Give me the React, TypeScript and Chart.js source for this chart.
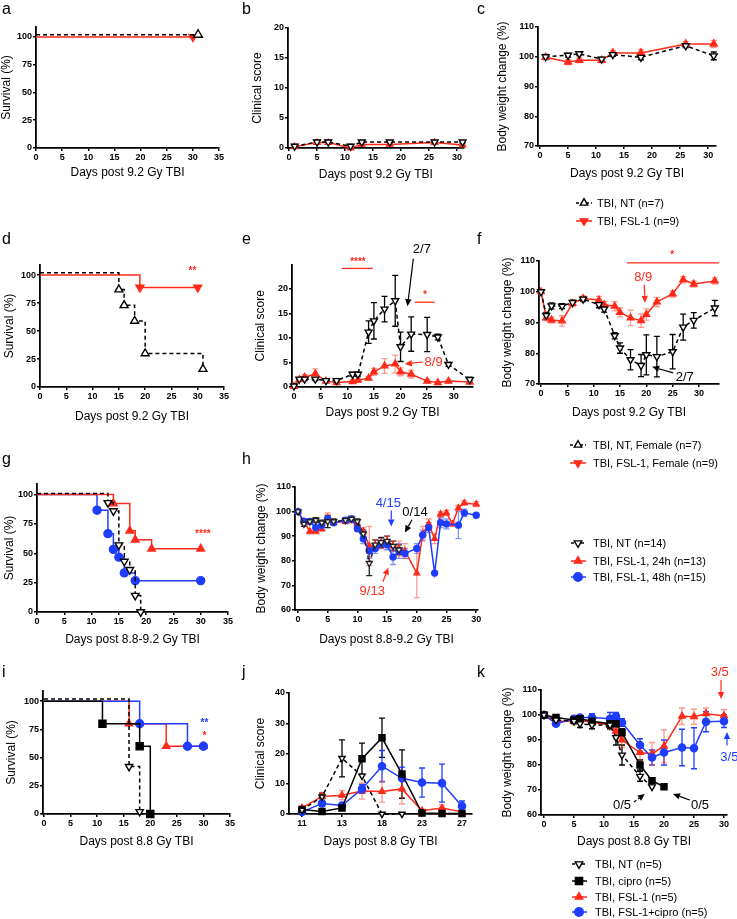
import React, { useEffect, useRef } from 'react';
import { Chart, registerables } from 'chart.js';
Chart.register(...registerables);

const PAGE_W = 737;
const PAGE_H = 919;
const FONT = "'Liberation Sans', Arial, Helvetica, sans-serif";
const BLACK = '#000000';
const RED = '#ff2a1a';
const RED_ERR = 'rgba(255,70,50,0.55)';
const BLUE = '#1f3dff';
const BLUE_ERR = 'rgba(40,80,255,0.6)';

// ---------------- DATA ----------------
// panel a (survival, 9.2 Gy)
const aNTDays = [0, 31];
const aNTSurv = [102, 102];
const aFSLDays = [0, 30];
const aFSLSurv = [100, 100];

// panel b (clinical score)
const bDays = [1, 5, 7, 11, 13, 18, 26, 31];
const bNT = [0.3, 1.0, 1.0, 0.3, 1.0, 1.0, 1.0, 1.0];
const bNTsem = [0.3, 0.3, 0.3, 0.3, 0.2, 0.2, 0.2, 0.2];
const bFSL = [0.2, 0.9, 0.9, 0.0, 0.6, 0.6, 0.9, 0.5];
const bFSLsem = [0.2, 0.3, 0.3, 0.2, 0.2, 0.2, 0.2, 0.2];

// panel c (body weight)
const cDays = [1, 5, 7, 11, 13, 18, 26, 31];
const cNT = [100, 100.5, 101, 99.2, 100.7, 99.8, 103.7, 100.3];
const cNTsem = [0.8, 0.6, 0.6, 0.6, 0.6, 0.8, 0.6, 1.3];
const cFSL = [99.8, 98.2, 98.8, 98.8, 101.3, 101.3, 104.3, 104.3];
const cFSLsem = [0.8, 0.8, 0.8, 0.8, 0.8, 1.2, 0.8, 1.2];

// panel d (survival, females)
const dNTDays = [0, 15, 16, 18, 20, 31];
const dNTSurv = [102, 87, 73, 59, 30, 16];
const dFSLDays = [0, 19, 30];
const dFSLSurv = [100, 89, 89];

// panel e (clinical score, females)
const efDays = [0, 1, 2, 4, 6, 8, 11, 12, 14, 15, 17, 19, 20, 22, 25, 27, 29, 33];
const eNT = [0.2, 1.6, 1.6, 1.6, 1.3, 1.3, 2.6, 2.6, 11.2, 13.5, 15.9, 17.6, 8.2, 10.8, 10.7, 10.2, 4.6, 1.5];
const eNTsem = [0.2, 0.3, 0.3, 0.3, 0.3, 0.3, 0.4, 0.4, 2.3, 3.7, 2.6, 5.2, 3.0, 3.5, 3.5, 0.6, 0.4, 0.5];
const eFSL = [0.1, 1.5, 2.0, 2.7, 1.2, 0.9, 1.1, 1.4, 1.8, 3.1, 4.3, 4.7, 3.1, 2.6, 1.2, 0.9, 1.2, 1.0];
const eFSLsem = [0.1, 0.3, 0.5, 1.0, 0.3, 0.3, 0.3, 0.4, 0.3, 0.7, 1.5, 1.8, 0.8, 0.8, 0.3, 0.2, 0.2, 0.2];

// panel f (body weight, females)
const fNT = [100, 92.3, 95.4, 95.3, 96.5, 97.6, 95.8, 94.4, 85.7, 81.7, 77.9, 76.0, 79.5, 78.9, 80.5, 88.5, 90.7, 94.7];
const fNTsem = [0.5, 1, 1, 0.8, 0.8, 0.8, 1, 1, 1, 1.7, 3.3, 3.6, 6.5, 6.6, 5.6, 4.2, 2.5, 2.5];
const fFSL = [100, 91.5, 90.8, 90.5, 96.2, 97.8, 97.3, 95.8, 95.3, 93.3, 91.5, 90.6, 92.6, 96.7, 99.3, 103.9, 102.5, 103.5];
const fFSLsem = [0.5, 1, 1, 1.7, 1, 0.8, 1.2, 1, 1.5, 1.5, 2.5, 2.2, 1.8, 1.5, 1, 1, 1, 1];

// panel g (survival, 8.8-9.2 Gy)
const gNTDays = [0, 13, 14, 15, 16, 17, 18, 19];
const gNTSurv = [101, 93, 86, 57, 43, 36, 14, 0];
const g24Days = [0, 14, 17, 18, 21, 30];
const g24Surv = [100, 92.3, 69.2, 61.5, 53.8, 53.8];
const g48Days = [0, 11, 13, 14, 15, 16, 18, 30];
const g48Surv = [100, 86.7, 66.7, 53.3, 46.7, 33.3, 26.7, 26.7];

// panel h (body weight, 8.8-9.2 Gy)
const hNTDays = [0, 1, 2, 3, 4, 5, 6, 8, 9, 10, 11, 12, 13, 14, 15, 16, 17];
const hNT = [100, 95, 96, 96.5, 95.5, 96, 96, 96.5, 97, 96, 91, 79, 86.5, 87.5, 88, 86, 84.5];
const hNTsem = [0, 1, 1, 1, 1, 2.5, 1, 1, 1, 1, 1.5, 5, 2, 2, 2, 2, 2];
const h24Days = [0, 1, 2, 3, 4, 5, 6, 8, 9, 10, 11, 12, 13, 14, 15, 16, 17, 18, 20, 21, 22, 23, 24, 25, 26, 27, 28, 30];
const h24 = [100, 96, 92, 92, 93, 97.5, 95.5, 96, 96.5, 95, 92, 86, 86.5, 87, 88, 86, 85, 84, 75, 91, 95, 89, 99, 99.5, 95, 101.5, 103.5, 103];
const h24sem = [0, 1, 1, 1, 1, 2, 1, 1, 1, 1, 1.5, 8, 2, 2, 2, 2, 3, 3, 10, 3, 2, 2, 1, 1, 1, 1, 1, 1];
const h48Days = [0, 1, 2, 3, 4, 5, 6, 8, 9, 10, 11, 12, 13, 14, 15, 16, 17, 18, 20, 21, 22, 23, 24, 25, 27, 28, 30];
const h48 = [100, 96, 96, 93.5, 94.5, 97, 95.5, 96.5, 97, 93, 89, 84, 85, 87, 86.5, 81.5, 84, 83, 85, 90.5, 93.5, 75, 95.5, 95, 94.5, 99.5, 98.5];
const h48sem = [0, 1, 1, 1, 1, 1, 1, 1, 1, 1, 2, 3, 2, 2, 2, 3, 3, 2, 2, 2, 2, 0, 2, 2, 5.5, 1.5, 0.5];

// panel i (survival, 8.8 Gy, cipro)
const iNTDays = [0, 16, 18];
const iNTSurv = [101.8, 42, 2];
const iCipDays = [0, 11, 18, 20];
const iCipSurv = [100, 80, 60, 0];
const iFSLDays = [0, 16, 23, 30];
const iFSLSurv = [100, 80, 60, 60];
const iBothDays = [0, 18, 27, 30];
const iBothSurv = [100, 80, 60, 60];

// panel j (clinical score, 8.8 Gy)
const jDays = ['11', '12', '13', '16', '18', '21', '23', '25', '27'];
const jNT = [1.3, 5.7, 18.4, 12.6, 0, 0];
const jNTsem = [0.3, 1.2, 6.1, 0, 0, 0];
const jCip = [1.5, 0.8, 2.0, 18.3, 25.2, 13.2, 0.3, 0.2, 0.2];
const jCipsem = [0.3, 0.2, 0.5, 5.1, 6.5, 8.0, 0, 0, 0];
const jFSL = [2.0, 5.8, 6.2, 7.6, 7.4, 8.3, 1.1, 2.0, 0.7];
const jFSLsem = [0.5, 1.3, 1.5, 2.7, 3.5, 5.0, 0.5, 1.0, 0.3];
const jBoth = [0.7, 3.5, 2.8, 8.3, 15.8, 11.8, 10.4, 10.2, 2.6];
const jBothsem = [0.3, 0.8, 0.8, 1.5, 5.2, 3.7, 4.8, 6.3, 1.7];

// panel k (body weight, 8.8 Gy)
const kNTDays = [0, 2, 5, 6, 8, 11, 12, 13, 16, 18];
const kNT = [100, 98, 97.5, 96.5, 96, 96, 91, 84, 75.5, 71.3];
const kNTsem = [0.5, 1, 1, 1.5, 1.5, 1.5, 3, 4, 2, 0];
const kCipDays = [0, 2, 5, 6, 8, 11, 12, 13, 16, 18, 20];
const kCip = [100, 99, 98, 98.5, 97.5, 96.5, 96.5, 93, 80, 73.7, 71.3];
const kCipsem = [0.5, 1, 1, 1, 1, 1.5, 1, 1.5, 2, 0.5, 0];
const kFSLDays = [0, 2, 5, 6, 8, 11, 12, 13, 16, 18, 20, 23, 25, 27, 30];
const kFSL = [100, 97.5, 97.5, 98, 97, 96, 93.5, 90, 85, 84.5, 87.5, 99.5, 99.3, 100.5, 99.7];
const kFSLsem = [0.5, 1, 1, 1, 1, 2, 3, 3, 3.5, 4.5, 6.5, 3.3, 3, 2.3, 2.5];
const kBothDays = [0, 2, 5, 6, 8, 11, 12, 13, 16, 18, 20, 23, 25, 27, 30];
const kBoth = [100, 96.5, 98.5, 99, 99, 98.5, 99.5, 97, 88, 83, 85, 87, 86.7, 97.3, 97.5];
const kBothsem = [0.5, 1, 1, 1, 1.5, 2.5, 1.5, 1.5, 2.5, 3, 5, 7.3, 8.2, 4, 2.5];

// tick values
const ticksDays35 = [0, 5, 10, 15, 20, 25, 30, 35];
const ticksDays30 = [0, 5, 10, 15, 20, 25, 30];
const ticksSurv = [0, 25, 50, 75, 100];
const ticksScore20 = [0, 5, 10, 15, 20];
const ticksScore40 = [0, 10, 20, 30, 40];
const ticksWeight70 = [70, 80, 90, 100, 110];
const ticksWeight60 = [60, 70, 80, 90, 100, 110];
const ticksJIdx = [0, 2, 4, 6, 8];

// ---------------- TYPES ----------------
type Marker = 'up' | 'down' | 'circle' | 'square';
interface Series {
  xs: number[];
  ys: number[];
  sem?: number[];
  color: string;
  errColor?: string;
  dashed?: boolean;
  marker: Marker;
  open?: boolean;
  r: number;
  stepped?: boolean;
  hideFirst?: boolean;
}
type Ann =
  | { kind: 'text'; x: number; y: number; text: string; color: string; size?: number; bold?: boolean }
  | { kind: 'arrow'; x1: number; y1: number; x2: number; y2: number; color: string; dashed?: boolean }
  | { kind: 'hline'; x1: number; x2: number; y: number; color: string };
interface LegendItem { label: string; marker: Marker; color: string; open?: boolean; dashed?: boolean; y: number }
interface Spec {
  L: number; T: number; R: number; B: number;
  xMin: number; xMax: number; yMin: number; yMax: number;
  xTicks: number[]; yTicks: number[];
  xTitle: string; yTitle: string; yTitleX: number; xTitleY: number;
  xLabel?: (v: number) => string;
  series: Series[];
  ann?: Ann[];
  letter: { t: string; x: number; y: number };
  legend?: { items: LegendItem[]; lineX1: number; lineX2: number; markerX: number; textX: number };
}

const idx = (arr: any[]) => arr.map((_, i) => i);

// ---------------- DRAW HELPERS ----------------
function drawMarker(ctx: CanvasRenderingContext2D, m: Marker, x: number, y: number, r: number, fill: string, stroke: string) {
  ctx.save();
  ctx.beginPath();
  if (m === 'circle') ctx.arc(x, y, r, 0, Math.PI * 2);
  else if (m === 'square') ctx.rect(x - r * 0.72, y - r * 0.72, r * 1.44, r * 1.44);
  else {
    const s = m === 'up' ? 1 : -1;
    ctx.moveTo(x, y - s * r);
    ctx.lineTo(x + r * 0.866, y + s * r * 0.5);
    ctx.lineTo(x - r * 0.866, y + s * r * 0.5);
    ctx.closePath();
  }
  ctx.fillStyle = fill;
  ctx.fill();
  ctx.lineWidth = 1.4;
  ctx.strokeStyle = stroke;
  ctx.stroke();
  ctx.restore();
}

function drawArrow(ctx: CanvasRenderingContext2D, x1: number, y1: number, x2: number, y2: number, color: string, dashed?: boolean) {
  const ang = Math.atan2(y2 - y1, x2 - x1);
  const hl = 7, hw = 3.2;
  const bx = x2 - Math.cos(ang) * hl, by = y2 - Math.sin(ang) * hl;
  ctx.save();
  ctx.strokeStyle = color;
  ctx.fillStyle = color;
  ctx.lineWidth = 1.2;
  if (dashed) ctx.setLineDash([3, 2]);
  ctx.beginPath();
  ctx.moveTo(x1, y1);
  ctx.lineTo(bx, by);
  ctx.stroke();
  ctx.setLineDash([]);
  ctx.beginPath();
  ctx.moveTo(x2, y2);
  ctx.lineTo(bx - Math.sin(ang) * hw, by + Math.cos(ang) * hw);
  ctx.lineTo(bx + Math.sin(ang) * hw, by - Math.cos(ang) * hw);
  ctx.closePath();
  ctx.fill();
  ctx.restore();
}

const errorBarPlugin = {
  id: 'errbars',
  beforeDatasetsDraw(chart: any) {
    const ctx = chart.ctx;
    const xs = chart.scales.x, ys = chart.scales.y;
    chart.data.datasets.forEach((ds: any) => {
      if (!ds.sem) return;
      ctx.save();
      ctx.strokeStyle = ds.errColor;
      ctx.lineWidth = 1.3;
      ds.data.forEach((p: any, i: number) => {
        const e = ds.sem[i];
        if (!e) return;
        const px = xs.getPixelForValue(p.x);
        const top = ys.getPixelForValue(p.y + e);
        const bot = ys.getPixelForValue(p.y - e);
        ctx.beginPath();
        ctx.moveTo(px, top); ctx.lineTo(px, bot);
        ctx.moveTo(px - 3, top); ctx.lineTo(px + 3, top);
        ctx.moveTo(px - 3, bot); ctx.lineTo(px + 3, bot);
        ctx.stroke();
      });
      ctx.restore();
    });
  },
};

function extrasPlugin(spec: Spec) {
  return {
    id: 'extras',
    afterDraw(chart: any) {
      const ctx: CanvasRenderingContext2D = chart.ctx;
      const xs = chart.scales.x, ys = chart.scales.y;
      const X = (v: number) => xs.getPixelForValue(v);
      const Y = (v: number) => ys.getPixelForValue(v);
      (spec.ann || []).forEach((a) => {
        if (a.kind === 'text') {
          ctx.save();
          ctx.fillStyle = a.color;
          ctx.font = `${a.bold ? 'bold ' : ''}${a.size || 13}px ${FONT}`;
          ctx.textAlign = 'center';
          ctx.textBaseline = 'middle';
          ctx.fillText(a.text, X(a.x), Y(a.y));
          ctx.restore();
        } else if (a.kind === 'arrow') {
          drawArrow(ctx, X(a.x1), Y(a.y1), X(a.x2), Y(a.y2), a.color, a.dashed);
        } else {
          ctx.save();
          ctx.strokeStyle = a.color;
          ctx.lineWidth = 1.3;
          ctx.beginPath();
          ctx.moveTo(X(a.x1), Y(a.y));
          ctx.lineTo(X(a.x2), Y(a.y));
          ctx.stroke();
          ctx.restore();
        }
      });
      // panel letter
      ctx.save();
      ctx.fillStyle = BLACK;
      ctx.font = `16px ${FONT}`;
      ctx.textAlign = 'left';
      ctx.textBaseline = 'alphabetic';
      ctx.fillText(spec.letter.t, spec.letter.x, spec.letter.y);
      ctx.restore();
      // legend
      if (spec.legend) {
        const lg = spec.legend;
        lg.items.forEach((it) => {
          ctx.save();
          ctx.strokeStyle = it.color;
          ctx.lineWidth = 1.5;
          if (it.dashed) ctx.setLineDash([3, 2]);
          ctx.beginPath();
          ctx.moveTo(lg.lineX1, it.y);
          ctx.lineTo(lg.lineX2, it.y);
          ctx.stroke();
          ctx.restore();
          drawMarker(ctx, it.marker, lg.markerX, it.y, it.marker === 'square' ? 5 : 4.3, it.open ? '#fff' : it.color, it.color);
          ctx.save();
          ctx.fillStyle = BLACK;
          ctx.font = `11px ${FONT}`;
          ctx.textAlign = 'left';
          ctx.textBaseline = 'middle';
          ctx.fillText(it.label, lg.textX, it.y + 0.5);
          ctx.restore();
        });
      }
    },
  };
}

function toDataset(s: Series) {
  return {
    data: s.xs.map((x, i) => ({ x, y: s.ys[i] })),
    borderColor: s.color,
    borderWidth: 1.5,
    borderDash: s.dashed ? [4, 3] : [],
    pointStyle: s.marker === 'circle' ? 'circle' : s.marker === 'square' ? 'rect' : 'triangle',
    rotation: s.marker === 'down' ? 180 : 0,
    pointRadius: (c: any) => (s.hideFirst && c.dataIndex === 0 ? 0 : s.r),
    pointBackgroundColor: s.open ? '#ffffff' : s.color,
    pointBorderColor: s.color,
    pointBorderWidth: 1.4,
    stepped: s.stepped ? 'before' : false,
    tension: 0,
    fill: false,
    clip: false,
    sem: s.sem,
    errColor: s.errColor || s.color,
  };
}

function makeChart(canvas: HTMLCanvasElement, spec: Spec) {
  const lh = 12 * 1.2;
  const padLeft = spec.yTitleX - lh / 2;
  const yW = spec.L - padLeft;
  const xH = spec.xTitleY - spec.B + lh / 2;
  const padBottom = PAGE_H - spec.B - xH;
  const tickFont = { family: FONT, size: 9, weight: 'bold' as const };
  const titleFont = { family: FONT, size: 12 };
  const grid = { display: true, drawOnChartArea: false, drawTicks: true, tickLength: 3, color: BLACK, lineWidth: 1.5 };
  const border = { display: true, color: BLACK, width: 1.8 };
  const cfg: any = {
    type: 'line',
    data: { datasets: spec.series.map(toDataset) },
    options: {
      animation: false,
      responsive: false,
      maintainAspectRatio: false,
      devicePixelRatio: 1,
      events: [],
      layout: { padding: { left: padLeft, top: spec.T, right: PAGE_W - spec.R, bottom: padBottom } },
      plugins: { legend: { display: false }, tooltip: { enabled: false } },
      scales: {
        x: {
          type: 'linear',
          min: spec.xMin,
          max: spec.xMax,
          afterBuildTicks: (s: any) => { s.ticks = spec.xTicks.map((v) => ({ value: v })); },
          afterFit: (s: any) => { s.height = xH; },
          grid,
          border,
          ticks: {
            font: tickFont, color: BLACK, padding: 1, maxRotation: 0, autoSkip: false,
            callback: (v: any) => (spec.xLabel ? spec.xLabel(Number(v)) : String(v)),
          },
          title: { display: true, text: spec.xTitle, font: titleFont, color: BLACK, padding: 0 },
        },
        y: {
          type: 'linear',
          min: spec.yMin,
          max: spec.yMax,
          afterBuildTicks: (s: any) => { s.ticks = spec.yTicks.map((v) => ({ value: v })); },
          afterFit: (s: any) => { s.width = yW; },
          grid,
          border,
          ticks: { font: tickFont, color: BLACK, padding: 1, autoSkip: false, callback: (v: any) => String(v) },
          title: { display: true, text: spec.yTitle, font: titleFont, color: BLACK, padding: 0 },
        },
      },
    },
    plugins: [errorBarPlugin, extrasPlugin(spec)],
  };
  return new Chart(canvas, cfg);
}

// ---------------- PANEL SPECS ----------------
const T92 = 'Days post 9.2 Gy TBI';
const T8892 = 'Days post 8.8-9.2 Gy TBI';
const T88 = 'Days post 8.8 Gy TBI';

const specs: Spec[] = [
  {
    L: 36, T: 27, R: 219, B: 148, xMin: 0, xMax: 35, yMin: 0, yMax: 109,
    xTicks: ticksDays35, yTicks: ticksSurv, xTitle: T92, yTitle: 'Survival (%)', yTitleX: 7, xTitleY: 173,
    letter: { t: 'a', x: 2, y: 14 },
    series: [
      { xs: aNTDays, ys: aNTSurv, color: BLACK, dashed: true, marker: 'up', open: true, r: 5, stepped: true, hideFirst: true },
      { xs: aFSLDays, ys: aFSLSurv, color: RED, marker: 'down', r: 4.5, stepped: true, hideFirst: true },
    ],
  },
  {
    L: 287.9, T: 28, R: 463.7, B: 148, xMin: -0.2, xMax: 31.2, yMin: 0, yMax: 20,
    xTicks: ticksDays30, yTicks: ticksScore20, xTitle: T92, yTitle: 'Clinical score', yTitleX: 258, xTitleY: 175,
    letter: { t: 'b', x: 242, y: 14 },
    series: [
      { xs: bDays, ys: bNT, sem: bNTsem, color: BLACK, dashed: true, marker: 'down', open: true, r: 4 },
      { xs: bDays, ys: bFSL, sem: bFSLsem, color: RED, errColor: RED_ERR, marker: 'up', r: 3.5 },
    ],
  },
  {
    L: 538, T: 27, R: 716, B: 146, xMin: -0.36, xMax: 31.4, yMin: 70, yMax: 110,
    xTicks: ticksDays30, yTicks: ticksWeight70, xTitle: T92, yTitle: 'Body weight change (%)', yTitleX: 503, xTitleY: 174,
    letter: { t: 'c', x: 477, y: 14 },
    series: [
      { xs: cDays, ys: cNT, sem: cNTsem, color: BLACK, dashed: true, marker: 'down', open: true, r: 4 },
      { xs: cDays, ys: cFSL, sem: cFSLsem, color: RED, errColor: RED_ERR, marker: 'up', r: 4 },
    ],
    legend: {
      lineX1: 576, lineX2: 592, markerX: 584, textX: 597,
      items: [
        { label: 'TBI, NT (n=7)', marker: 'up', color: BLACK, open: true, dashed: true, y: 203 },
        { label: 'TBI, FSL-1 (n=9)', marker: 'down', color: RED, y: 221 },
      ],
    },
  },
  {
    L: 40, T: 265, R: 224, B: 387, xMin: 0, xMax: 35, yMin: 0, yMax: 109,
    xTicks: ticksDays35, yTicks: ticksSurv, xTitle: T92, yTitle: 'Survival (%)', yTitleX: 10, xTitleY: 417,
    letter: { t: 'd', x: 2, y: 244 },
    series: [
      { xs: dNTDays, ys: dNTSurv, color: BLACK, dashed: true, marker: 'up', open: true, r: 4.6, stepped: true, hideFirst: true },
      { xs: dFSLDays, ys: dFSLSurv, color: RED, marker: 'down', r: 4.6, stepped: true, hideFirst: true },
    ],
    ann: [{ kind: 'text', x: 29, y: 103, text: '**', color: RED, size: 10, bold: true }],
  },
  {
    L: 292, T: 264.5, R: 473, B: 387, xMin: -0.375, xMax: 33.6, yMin: 0, yMax: 25,
    xTicks: ticksDays30, yTicks: ticksScore20, xTitle: T92, yTitle: 'Clinical score', yTitleX: 261, xTitleY: 413,
    letter: { t: 'e', x: 242, y: 244 },
    series: [
      { xs: efDays, ys: eNT, sem: eNTsem, color: BLACK, dashed: true, marker: 'down', open: true, r: 4 },
      { xs: efDays, ys: eFSL, sem: eFSLsem, color: RED, errColor: RED_ERR, marker: 'up', r: 3.8 },
    ],
    ann: [
      { kind: 'text', x: 12, y: 25.4, text: '****', color: RED, size: 10, bold: true },
      { kind: 'hline', x1: 9, x2: 14.8, y: 24.2, color: RED },
      { kind: 'text', x: 24, y: 28, text: '2/7', color: BLACK },
      { kind: 'arrow', x1: 22.4, y1: 26.2, x2: 21.3, y2: 16.5, color: BLACK },
      { kind: 'text', x: 24.6, y: 18.8, text: '*', color: RED, size: 10, bold: true },
      { kind: 'hline', x1: 22.7, x2: 26.4, y: 17.3, color: RED },
      { kind: 'text', x: 26.2, y: 5.1, text: '8/9', color: RED },
      { kind: 'arrow', x1: 24.2, y1: 5.1, x2: 20.8, y2: 4.7, color: RED },
    ],
  },
  {
    L: 539, T: 261, R: 719, B: 384, xMin: -0.38, xMax: 33.8, yMin: 70, yMax: 110,
    xTicks: ticksDays30, yTicks: ticksWeight70, xTitle: T92, yTitle: 'Body weight change (%)', yTitleX: 508, xTitleY: 413,
    letter: { t: 'f', x: 477, y: 244 },
    series: [
      { xs: efDays, ys: fNT, sem: fNTsem, color: BLACK, dashed: true, marker: 'down', open: true, r: 4 },
      { xs: efDays, ys: fFSL, sem: fFSLsem, color: RED, errColor: RED_ERR, marker: 'up', r: 3.8 },
    ],
    ann: [
      { kind: 'text', x: 24.9, y: 112, text: '*', color: RED, size: 10, bold: true },
      { kind: 'hline', x1: 16.3, x2: 33.8, y: 109.4, color: RED },
      { kind: 'text', x: 19.4, y: 104.6, text: '8/9', color: RED },
      { kind: 'arrow', x1: 19.6, y1: 102.3, x2: 19.75, y2: 96.4, color: RED },
      { kind: 'text', x: 27.3, y: 72.3, text: '2/7', color: BLACK },
      { kind: 'arrow', x1: 25.1, y1: 73.6, x2: 21.1, y2: 75.6, color: BLACK },
    ],
    legend: {
      lineX1: 570, lineX2: 586, markerX: 578, textX: 593,
      items: [
        { label: 'TBI, NT, Female (n=7)', marker: 'up', color: BLACK, open: true, dashed: true, y: 445 },
        { label: 'TBI, FSL-1, Female (n=9)', marker: 'down', color: RED, y: 463 },
      ],
    },
  },
  {
    L: 37, T: 484, R: 228, B: 612, xMin: 0, xMax: 35, yMin: 0, yMax: 109,
    xTicks: ticksDays35, yTicks: ticksSurv, xTitle: T8892, yTitle: 'Survival (%)', yTitleX: 10, xTitleY: 640,
    letter: { t: 'g', x: 2, y: 464 },
    series: [
      { xs: gNTDays, ys: gNTSurv, color: BLACK, dashed: true, marker: 'down', open: true, r: 4.4, stepped: true, hideFirst: true },
      { xs: g24Days, ys: g24Surv, color: RED, marker: 'up', r: 4.4, stepped: true, hideFirst: true },
      { xs: g48Days, ys: g48Surv, color: BLUE, marker: 'circle', r: 4, stepped: true, hideFirst: true },
    ],
    ann: [{ kind: 'text', x: 30.4, y: 66.5, text: '****', color: RED, size: 10, bold: true }],
  },
  {
    L: 295, T: 487, R: 478, B: 610, xMin: -0.5, xMax: 30.3, yMin: 60, yMax: 110,
    xTicks: ticksDays30, yTicks: ticksWeight60, xTitle: T8892, yTitle: 'Body weight change (%)', yTitleX: 262, xTitleY: 640,
    letter: { t: 'h', x: 242, y: 464 },
    series: [
      { xs: hNTDays, ys: hNT, sem: hNTsem, color: '#222222', dashed: true, marker: 'down', open: true, r: 3.4 },
      { xs: h48Days, ys: h48, sem: h48sem, color: BLUE, errColor: BLUE_ERR, marker: 'circle', r: 3 },
      { xs: h24Days, ys: h24, sem: h24sem, color: RED, errColor: RED_ERR, marker: 'up', r: 3.3 },
    ],
    ann: [
      { kind: 'text', x: 15.2, y: 103.3, text: '4/15', color: BLUE },
      { kind: 'arrow', x1: 15.7, y1: 100.4, x2: 15.7, y2: 93.9, color: BLUE },
      { kind: 'text', x: 19.7, y: 99.6, text: '0/14', color: BLACK },
      { kind: 'arrow', x1: 19.2, y1: 96.7, x2: 18.0, y2: 91.5, color: BLACK },
      { kind: 'text', x: 12.5, y: 67.5, text: '9/13', color: RED },
      { kind: 'arrow', x1: 14.3, y1: 71.5, x2: 15.2, y2: 77.2, color: RED },
    ],
    legend: {
      lineX1: 571, lineX2: 586, markerX: 578, textX: 593,
      items: [
        { label: 'TBI, NT (n=14)', marker: 'down', color: BLACK, open: true, dashed: true, y: 543 },
        { label: 'TBI, FSL-1, 24h (n=13)', marker: 'up', color: RED, y: 561 },
        { label: 'TBI, FSL-1, 48h (n=15)', marker: 'circle', color: BLUE, y: 577 },
      ],
    },
  },
  {
    L: 43, T: 691, R: 230, B: 814, xMin: -0.19, xMax: 35, yMin: 0, yMax: 109,
    xTicks: ticksDays35, yTicks: ticksSurv, xTitle: T88, yTitle: 'Survival (%)', yTitleX: 12, xTitleY: 842,
    letter: { t: 'i', x: 2, y: 677 },
    series: [
      { xs: iNTDays, ys: iNTSurv, color: BLACK, dashed: true, marker: 'down', open: true, r: 4.2, stepped: true, hideFirst: true },
      { xs: iCipDays, ys: iCipSurv, color: BLACK, marker: 'square', r: 5, stepped: true, hideFirst: true },
      { xs: iBothDays, ys: iBothSurv, color: BLUE, marker: 'circle', r: 4, stepped: true, hideFirst: true },
      { xs: iFSLDays, ys: iFSLSurv, color: RED, marker: 'up', r: 4.2, stepped: true, hideFirst: true },
    ],
    ann: [
      { kind: 'text', x: 30.2, y: 80.5, text: '**', color: BLUE, size: 10, bold: true },
      { kind: 'text', x: 30.2, y: 69, text: '*', color: RED, size: 10, bold: true },
    ],
  },
  {
    L: 289, T: 693, R: 472, B: 814, xMin: -0.65, xMax: 8.5, yMin: 0, yMax: 40,
    xTicks: ticksJIdx, yTicks: ticksScore40, xTitle: T88, yTitle: 'Clinical score', yTitleX: 261, xTitleY: 842,
    xLabel: (v) => jDays[v] ?? '',
    letter: { t: 'j', x: 242, y: 677 },
    series: [
      { xs: idx(jNT), ys: jNT, sem: jNTsem, color: BLACK, dashed: true, marker: 'down', open: true, r: 3.6 },
      { xs: idx(jCip), ys: jCip, sem: jCipsem, color: BLACK, marker: 'square', r: 4.3 },
      { xs: idx(jBoth), ys: jBoth, sem: jBothsem, color: BLUE, errColor: BLUE, marker: 'circle', r: 3.6 },
      { xs: idx(jFSL), ys: jFSL, sem: jFSLsem, color: RED, errColor: RED_ERR, marker: 'up', r: 3.6 },
    ],
  },
  {
    L: 541, T: 690, R: 727, B: 815, xMin: -0.5, xMax: 30.5, yMin: 60, yMax: 110,
    xTicks: ticksDays30, yTicks: ticksWeight60, xTitle: T88, yTitle: 'Body weight change (%)', yTitleX: 508, xTitleY: 842,
    letter: { t: 'k', x: 477, y: 677 },
    series: [
      { xs: kNTDays, ys: kNT, sem: kNTsem, color: BLACK, dashed: true, marker: 'down', open: true, r: 3.8 },
      { xs: kCipDays, ys: kCip, sem: kCipsem, color: BLACK, marker: 'square', r: 4.3 },
      { xs: kBothDays, ys: kBoth, sem: kBothsem, color: BLUE, errColor: BLUE, marker: 'circle', r: 3.6 },
      { xs: kFSLDays, ys: kFSL, sem: kFSLsem, color: RED, errColor: RED_ERR, marker: 'up', r: 3.8 },
    ],
    ann: [
      { kind: 'text', x: 29.3, y: 117, text: '3/5', color: RED },
      { kind: 'arrow', x1: 29.5, y1: 114, x2: 29.5, y2: 106.4, color: RED },
      { kind: 'text', x: 30.9, y: 83.2, text: '3/5', color: BLUE },
      { kind: 'arrow', x1: 30.5, y1: 87.8, x2: 30.5, y2: 93.2, color: BLUE },
      { kind: 'text', x: 13, y: 64, text: '0/5', color: BLACK },
      { kind: 'arrow', x1: 15, y1: 65.2, x2: 16.8, y2: 68.4, color: BLACK, dashed: true },
      { kind: 'text', x: 26, y: 64, text: '0/5', color: BLACK },
      { kind: 'arrow', x1: 24.3, y1: 66, x2: 21.5, y2: 68.4, color: BLACK },
    ],
    legend: {
      lineX1: 572, lineX2: 587, markerX: 579, textX: 595,
      items: [
        { label: 'TBI, NT (n=5)', marker: 'down', color: BLACK, open: true, dashed: true, y: 864 },
        { label: 'TBI, cipro (n=5)', marker: 'square', color: BLACK, y: 881 },
        { label: 'TBI, FSL-1 (n=5)', marker: 'up', color: RED, y: 897 },
        { label: 'TBI, FSL-1+cipro (n=5)', marker: 'circle', color: BLUE, y: 912 },
      ],
    },
  },
];

export default function App() {
  const refs = useRef<(HTMLCanvasElement | null)[]>([]);
  useEffect(() => {
    const charts = specs.map((s, i) => makeChart(refs.current[i] as HTMLCanvasElement, s));
    return () => charts.forEach((c) => c.destroy());
  }, []);
  return (
    <div style={{ position: 'absolute', left: 0, top: 0, width: PAGE_W, height: PAGE_H, background: '#fff', overflow: 'hidden' }}>
      {specs.map((_, i) => (
        <canvas
          key={i}
          ref={(el) => { refs.current[i] = el; }}
          width={PAGE_W}
          height={PAGE_H}
          style={{ position: 'absolute', left: 0, top: 0, width: PAGE_W, height: PAGE_H }}
        />
      ))}
    </div>
  );
}
